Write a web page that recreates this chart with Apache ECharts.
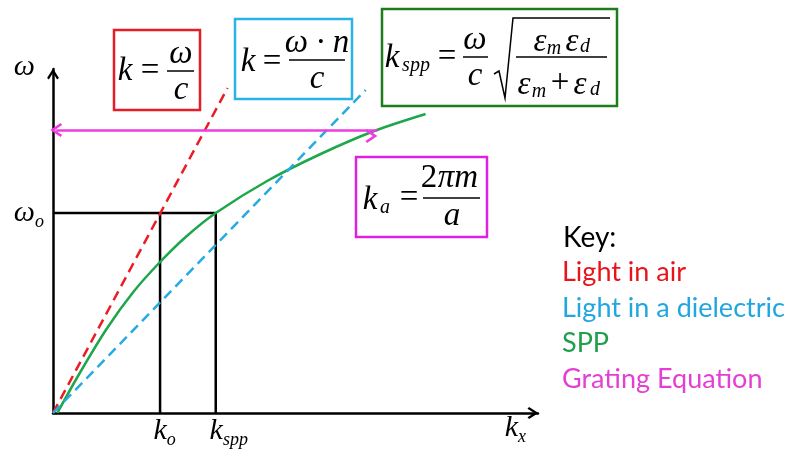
<!DOCTYPE html>
<html><head><meta charset="utf-8">
<script src="https://cdn.jsdelivr.net/npm/echarts@6/dist/echarts.min.js"></script>
<style>html,body{margin:0;padding:0;background:#fff}#c{width:788px;height:455px}</style>
</head><body><div id="c"></div>
<script>
// ---- data (k in units of k_o, omega in units of omega_o) ----
const airK = [0, 1.63];
const airW = [0, 1.625];
const dielK = [0, 2.92];
const dielW = [0, 1.615];
const sppK = [0.04, 0.25, 0.5, 0.75, 1.0, 1.25, 1.52, 2.0, 2.5, 3.0, 3.48];
const sppW = [0, 0.2, 0.42, 0.605, 0.755, 0.885, 1.0, 1.16, 1.295, 1.41, 1.495];
const gratingK = [0.03, 3.03];
const gratingW = [1.415, 1.415];
const kO = 1, kSpp = 1.52, wO = 1;
const xTickValues = [1, 1.52];
const xTickLabels = ['{k1|k}{s|o}', '{k2|k}{s|spp}'];
const yTickValues = [1];
const yTickLabels = ['{w|ω}{s|o}'];
const seriesNames = ['Light in air', 'Light in a dielectric', 'SPP', 'Grating Equation'];
const seriesColors = ['#ec1c24', '#27aae1', '#1ea64b', '#ee3ee0'];
const keyColors = ['#e8141b', '#22a6e0', '#1f9e4c', '#e43fd2'];

const SERIF = '"Liberation Serif", "DejaVu Serif", serif';
const chev = 'path://M5,0L10,8L8.5,9.3L5,3.6L1.5,9.3L0,8Z';
const F = 33, FS = 20;

function pairs(xs, ys) { return xs.map((x, i) => [x, ys[i]]); }

function T(text, x, y, size, italic, align) {
  return { type: 'text', x: x, y: y, z: 100, silent: true,
    style: { text: text, font: (italic ? 'italic ' : '') + size + 'px ' + SERIF,
      fill: '#000', align: align || 'center', verticalAlign: 'middle' } };
}
function L(x1, y1, x2, y2, w) {
  return { type: 'line', z: 100, silent: true, shape: { x1: x1, y1: y1, x2: x2, y2: y2 },
    style: { stroke: '#000', lineWidth: w || 1.5 } };
}
function R(x, y, w, h, color) {
  return { type: 'rect', z: 99, silent: true, shape: { x: x, y: y, width: w, height: h },
    style: { fill: '#fff', stroke: color, lineWidth: 2.5 } };
}

const graphics = [
  // red box  k = ω / c
  R(114, 30, 86, 80, '#e31e24'),
  T('k', 125, 71, F, true), T('=', 150, 71, F, false), L(167, 71, 194, 71),
  T('ω', 181, 54, F, true), T('c', 181, 90, F, true),
  // cyan box  k = ω·n / c
  R(235, 19, 117, 80, '#29b3e8'),
  T('k', 248, 62, F, true), T('=', 272, 62, F, false), L(289, 60, 345, 60),
  T('ω · n', 317, 43, F, true), T('c', 317, 79, F, true),
  // green box  k_spp = ω/c sqrt(εm εd / (εm + εd))
  R(382, 9, 235, 97, '#1b7d1b'),
  T('k', 392, 58, F, true), T('spp', 416, 66, FS, true), T('=', 447, 57, F, false),
  L(463, 57, 488, 57), T('ω', 475, 40, F, true), T('c', 475, 76, F, true),
  { type: 'polyline', z: 100, silent: true, shape: { points: [[494, 74], [499, 71], [505, 98], [513, 18], [610, 18]] },
    style: { stroke: '#000', lineWidth: 1.5, fill: null } },
  L(516, 57, 607, 57),
  T('ε', 540, 42, F, true), T('m', 554, 49, FS, true), T('ε', 572, 42, F, true), T('d', 585, 47, FS, true),
  T('ε', 524, 85, F, true), T('m', 539, 92, FS, true), T('+', 560, 83, F, false),
  T('ε', 580, 85, F, true), T('d', 595, 90, FS, true),
  // magenta box  k_a = 2πm / a
  R(356, 157, 131, 80, '#e020e0'),
  T('k', 370, 200, F, true), T('a', 385, 208, FS, true), T('=', 409, 198, F, false),
  L(423, 198, 480, 198), T('2', 429, 178, F, false), T('πm', 458, 178, F, true), T('a', 452, 216, F, true),
  // key title
  { type: 'text', x: 563, y: 238, z: 100, silent: true,
    style: { text: 'Key:', font: '28px Lato', fill: '#000', align: 'left', verticalAlign: 'middle' } }
];

const subRich = { fontFamily: SERIF, fontStyle: 'italic', fontSize: 18, lineHeight: 18, padding: [18, 0, 0, 0], color: '#000' };
const mainRich = { fontFamily: SERIF, fontStyle: 'italic', fontSize: 30, lineHeight: 30, color: '#000' };

const option = {
  animation: false,
  backgroundColor: '#fff',
  grid: { left: 53, right: 250, top: 69, bottom: 42, containLabel: false, outerBoundsMode: 'none' },
  xAxis: {
    type: 'value', min: 0, max: 4.53,
    name: '{k|k}{s|x}', nameLocation: 'end', nameGap: -12,
    nameTextStyle: { align: 'right', verticalAlign: 'top', rich: { k: mainRich, s: subRich } },
    axisLine: { show: true, symbol: ['none', chev], symbolSize: [13, 11], symbolOffset: [0, -5],
      lineStyle: { color: '#000', width: 2.5 } },
    axisTick: { show: false }, splitLine: { show: false },
    axisLabel: { show: true, customValues: xTickValues, margin: 3,
      formatter: function (v) { const i = xTickValues.indexOf(v); return i >= 0 ? xTickLabels[i] : ''; },
      rich: { k1: Object.assign({}, mainRich, { padding: [0, 0, 0, 9] }),
              k2: Object.assign({}, mainRich, { padding: [0, 0, 0, 26] }), s: subRich } }
  },
  yAxis: {
    type: 'value', min: 0, max: 1.72,
    name: 'ω', nameLocation: 'end', nameGap: 2,
    nameTextStyle: { align: 'right', verticalAlign: 'middle', padding: [0, 18, 0, 0],
      fontFamily: SERIF, fontStyle: 'italic', fontSize: 30, color: '#000' },
    axisLine: { show: true, symbol: ['none', chev], symbolSize: [13, 11], symbolOffset: [0, -5],
      lineStyle: { color: '#000', width: 2.5 } },
    axisTick: { show: false }, splitLine: { show: false },
    axisLabel: { show: true, customValues: yTickValues, margin: 9,
      formatter: function (v) { const i = yTickValues.indexOf(v); return i >= 0 ? yTickLabels[i] : ''; },
      rich: { w: mainRich, s: subRich } }
  },
  legend: {
    orient: 'vertical', left: 552, top: 254, icon: 'none', itemWidth: 0, itemHeight: 24, itemGap: 8.5,
    selectedMode: false,
    textStyle: { fontFamily: 'Lato', fontSize: 27, lineHeight: 24, padding: 0 },
    data: seriesNames.map((n, i) => ({ name: n, textStyle: { color: keyColors[i] } }))
  },
  series: [
    { name: 'guide', type: 'line', data: [[0, wO], [kSpp, wO], [kSpp, 0]], showSymbol: false, silent: true,
      lineStyle: { color: '#000', width: 2.5 }, z: 1 },
    { name: 'guide2', type: 'line', data: [[kO, 0], [kO, wO]], showSymbol: false, silent: true,
      lineStyle: { color: '#000', width: 2.5 }, z: 1 },
    { name: seriesNames[0], type: 'line', data: pairs(airK, airW), showSymbol: false, color: seriesColors[0],
      lineStyle: { color: seriesColors[0], width: 2.5, type: [10, 6] }, z: 3 },
    { name: seriesNames[1], type: 'line', data: pairs(dielK, dielW), showSymbol: false, color: seriesColors[1],
      lineStyle: { color: seriesColors[1], width: 2.5, type: [10, 6] }, z: 3 },
    { name: seriesNames[2], type: 'line', data: pairs(sppK, sppW), showSymbol: false, smooth: 0.3,
      color: seriesColors[2], lineStyle: { color: seriesColors[2], width: 2.5 }, z: 2 },
    { name: seriesNames[3], type: 'line', data: [], color: seriesColors[3],
      markLine: { silent: true, symbol: [chev, chev], symbolSize: [14, 12], symbolOffset: [0, 6],
        label: { show: false }, emphasis: { disabled: true },
        lineStyle: { color: seriesColors[3], width: 2.5, type: 'solid' },
        itemStyle: { color: seriesColors[3] },
        data: [[{ coord: [gratingK[0], gratingW[0]] }, { coord: [gratingK[1], gratingW[1]] }]] } }
  ],
  graphic: graphics
};
echarts.init(document.getElementById('c'), null, { renderer: 'canvas' }).setOption(option);
</script>
</body></html>
